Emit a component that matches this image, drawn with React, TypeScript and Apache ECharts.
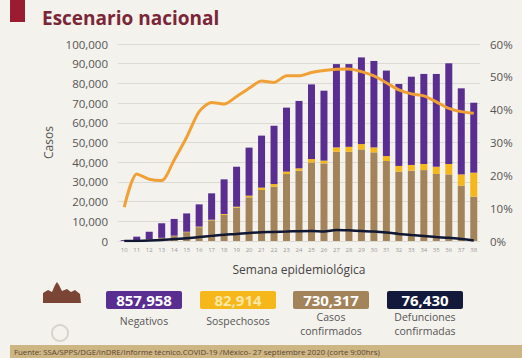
import React, { useEffect, useRef } from "react";
import * as echarts from "echarts";

const weeks = ["10","11","12","13","14","15","16","17","18","19","20","21","22","23","24","25","26","27","28","29","30","31","32","33","34","35","36","37","38"];
const confirmados = [50,300,800,1500,2500,4500,7000,10500,13300,16900,22200,25900,27600,34000,35700,39900,39400,45300,45300,46500,45000,40600,35200,35700,36000,34000,33800,28100,22500];
const sospechosos = [20,50,100,100,200,200,300,300,400,500,800,1200,1300,1200,1200,1700,1400,2200,2500,2700,2500,2500,2900,2900,3100,3700,5300,5700,12200];
const negativos = [430,1850,3800,7400,8500,9300,11300,13400,17600,20300,24400,26400,29600,32500,34200,37900,35500,42300,42000,44000,43900,43400,41600,44800,45700,47100,51100,43700,35500];
const defunciones = [0,50,200,500,1000,1400,2000,2600,3200,3600,4100,4400,4600,4800,5000,5100,4800,5600,5400,5100,4800,4300,3600,3000,2500,2000,1600,1000,300];
const positividad = [10.3,20.4,18.8,18.4,24.7,31.6,39.4,42.2,41.7,44.0,46.5,48.7,48.3,50.3,50.3,51.3,51.9,52.3,52.4,51.6,50.3,48.2,46.0,44.8,44.2,42.4,40.4,39.4,38.9];
const leftTicks = { min: 0, max: 100000, interval: 10000 };
const rightTicks = { min: 0, max: 60, interval: 10 };
const totals = [
  { value: "857,958", label: "Negativos", color: "#5a2d91", text: "#ffffff" },
  { value: "82,914", label: "Sospechosos", color: "#f5b71a", text: "#fde7a6" },
  { value: "730,317", label: "Casos\nconfirmados", color: "#a3835a", text: "#ffffff" },
  { value: "76,430", label: "Defunciones\nconfirmadas", color: "#12193a", text: "#ffffff" },
];
const title = "Escenario nacional";
const fuente = "Fuente: SSA/SPPS/DGE/InDRE/Informe técnico.COVID-19 /México- 27 septiembre 2020 (corte 9:00hrs)";

const FONT = "'Open Sans', 'Noto Sans', sans-serif";

export default function App() {
  const ref = useRef<HTMLDivElement>(null);
  useEffect(() => {
    if (!ref.current) return;
    const chart = echarts.init(ref.current, undefined, { renderer: "svg" });
    const graphics: any[] = [
      { type: "rect", shape: { x: 10, y: 0, width: 15, height: 22 }, style: { fill: "#9b1b30" } },
      { type: "text", style: { text: title, x: 42, y: 18, fill: "#7b2536", font: `bold 19px ${FONT}`, textVerticalAlign: "middle" } },
      { type: "rect", shape: { x: 10, y: 345, width: 512, height: 13 }, style: { fill: "#cdb584" } },
      { type: "text", style: { text: fuente, x: 14, y: 351.5, fill: "#5a4630", font: `7.8px ${FONT}`, textVerticalAlign: "middle" } },
      { type: "polygon", shape: { points: [[43, 303], [43, 293], [48, 290], [52, 292], [55, 285], [57, 282], [59, 285], [62, 291], [67, 289], [71, 292], [75, 290], [80, 294], [81, 303]] }, style: { fill: "#7a4535" } },
      { type: "circle", shape: { cx: 60, cy: 333, r: 8 }, style: { fill: "none", stroke: "#d9d4cc", lineWidth: 2 } },
    ];
    const boxX = [106, 200, 293, 387];
    totals.forEach((t, i) => {
      const x = boxX[i];
      graphics.push({ type: "rect", shape: { x, y: 291, width: 76, height: 18, r: 2 }, style: { fill: t.color } });
      graphics.push({ type: "text", style: { text: t.value, x: x + 38, y: 300, fill: t.text, font: `bold 15px ${FONT}`, textAlign: "center", textVerticalAlign: "middle" } });
      const twoLines = t.label.indexOf("\n") >= 0;
      graphics.push({
        type: "text",
        style: {
          text: t.label,
          x: x + 38,
          y: twoLines ? 310 : 314,
          fill: "#555555",
          font: `10.5px ${FONT}`,
          lineHeight: 14,
          textAlign: "center",
          textVerticalAlign: "top",
        },
      });
    });

    chart.setOption({
      animation: false,
      backgroundColor: "#f4f2ed",
      grid: { left: 118, right: 42, top: 44, bottom: 117 },
      xAxis: {
        type: "category",
        data: weeks,
        name: "Semana epidemiológica",
        nameLocation: "middle",
        nameGap: 22,
        nameTextStyle: { fontSize: 12, color: "#444", fontFamily: FONT },
        axisLine: { show: false },
        axisTick: { show: false },
        axisLabel: { fontSize: 6, color: "#999", margin: 6, interval: 0, fontFamily: FONT },
      },
      yAxis: [
        {
          type: "value",
          ...leftTicks,
          name: "Casos",
          nameLocation: "middle",
          nameRotate: 90,
          nameGap: 62,
          nameTextStyle: { fontSize: 12, color: "#555", fontFamily: FONT },
          axisLabel: {
            fontSize: 11.5,
            color: "#555",
            margin: 10,
            fontFamily: FONT,
            formatter: (v: number) => v.toLocaleString("en-US"),
          },
          splitLine: { lineStyle: { color: "#dcdad5", width: 1 } },
        },
        {
          type: "value",
          ...rightTicks,
          position: "right",
          axisLabel: { fontSize: 11.5, color: "#555", margin: 10, fontFamily: FONT, formatter: "{value}%" },
          splitLine: { show: false },
        },
      ],
      series: [
        { name: "Confirmados", type: "bar", stack: "t", data: confirmados, barWidth: 7, itemStyle: { color: "#a3835a" } },
        { name: "Sospechosos", type: "bar", stack: "t", data: sospechosos, barWidth: 7, itemStyle: { color: "#f5b71a" } },
        { name: "Negativos", type: "bar", stack: "t", data: negativos, barWidth: 7, itemStyle: { color: "#5a2d91" } },
        { name: "Defunciones", type: "line", data: defunciones, symbol: "none", smooth: 0.3, lineStyle: { color: "#0f1733", width: 2.5 }, z: 5 },
        { name: "Positividad", type: "line", yAxisIndex: 1, data: positividad, symbol: "none", smooth: 0.25, lineStyle: { color: "#f0a035", width: 3 }, z: 6 },
      ],
      graphic: graphics,
    });
    return () => chart.dispose();
  }, []);
  return <div ref={ref} style={{ position: "fixed", left: 0, top: 0, width: 522, height: 358 }} />;
}
